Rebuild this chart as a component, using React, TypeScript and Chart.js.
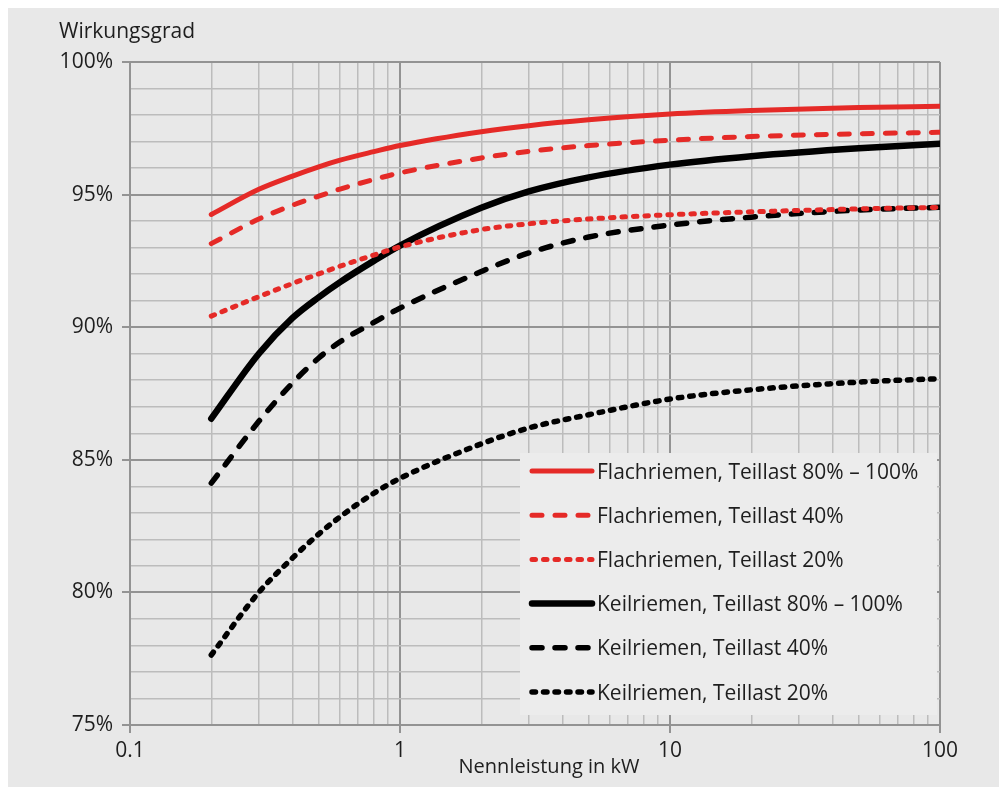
import React, { useEffect, useRef } from 'react';
import { Chart, registerables } from 'chart.js';

Chart.register(...registerables);

// ---- data ----
const POWER_KW = [0.2, 0.3, 0.4, 0.5, 0.6, 0.8, 1, 2, 3, 5, 10, 20, 50, 100];
const FLACH_80_100 = [94.25, 95.2, 95.7, 96.05, 96.3, 96.62, 96.85, 97.37, 97.6, 97.82, 98.04, 98.17, 98.28, 98.33];
const FLACH_40 = [93.15, 94.08, 94.6, 94.94, 95.21, 95.57, 95.82, 96.38, 96.63, 96.85, 97.05, 97.19, 97.29, 97.35];
const FLACH_20 = [90.42, 91.15, 91.65, 92.01, 92.3, 92.72, 93.03, 93.68, 93.9, 94.08, 94.24, 94.35, 94.46, 94.52];
const KEIL_80_100 = [86.55, 89.0, 90.35, 91.13, 91.7, 92.5, 93.08, 94.5, 95.12, 95.65, 96.13, 96.45, 96.75, 96.92];
const KEIL_40 = [84.12, 86.45, 87.9, 88.84, 89.45, 90.18, 90.72, 92.1, 92.8, 93.4, 93.85, 94.15, 94.42, 94.52];
const KEIL_20 = [77.64, 80.0, 81.3, 82.2, 82.85, 83.74, 84.3, 85.6, 86.2, 86.7, 87.29, 87.64, 87.93, 88.06];

const SERIES_LABELS = [
  'Flachriemen, Teillast 80% – 100%',
  'Flachriemen, Teillast 40%',
  'Flachriemen, Teillast 20%',
  'Keilriemen, Teillast 80% – 100%',
  'Keilriemen, Teillast 40%',
  'Keilriemen, Teillast 20%',
];
const X_TICK_LABELS = ['0.1', '1', '10', '100'];
const X_TITLE = 'Nennleistung in kW';
const Y_TITLE = 'Wirkungsgrad';
const Y_MIN = 75;
const Y_MAX = 100;

// ---- styles ----
const W = 992;
const H = 779;
const BG = '#e8e8e8';
const RED = '#e52a27';
const BLACK = '#000000';
const TEXT = '#1e1e1e';
const MAJOR = '#939393';
const MINOR = '#bcbcbc';
const FONT = "'Open Sans', 'Noto Sans', sans-serif";

const DASH = [10, 13];
const DOT = [3.5, 8];

type Style = { color: string; width: number; dash: number[] };
const STYLES: Style[] = [
  { color: RED, width: 5, dash: [] },
  { color: RED, width: 5, dash: DASH },
  { color: RED, width: 5, dash: DOT },
  { color: BLACK, width: 6.5, dash: [] },
  { color: BLACK, width: 5.5, dash: DASH },
  { color: BLACK, width: 5.5, dash: DOT },
];

const SERIES = [FLACH_80_100, FLACH_40, FLACH_20, KEIL_80_100, KEIL_40, KEIL_20];

const isDecade = (v: number) => Math.abs(Math.log10(v) - Math.round(Math.log10(v))) < 1e-6;

const overlayPlugin = {
  id: 'overlay',
  beforeDraw(chart: any) {
    const { ctx } = chart;
    ctx.save();
    ctx.fillStyle = BG;
    ctx.fillRect(0, 0, chart.width, chart.height);
    ctx.restore();
  },
  afterDraw(chart: any) {
    const { ctx, chartArea } = chart;
    ctx.save();
    // y title
    ctx.fillStyle = TEXT;
    ctx.font = `21px ${FONT}`;
    ctx.textAlign = 'left';
    ctx.textBaseline = 'alphabetic';
    ctx.fillText(Y_TITLE, chartArea.left - 71, 30);

    // x title
    ctx.font = `20px ${FONT}`;
    ctx.textAlign = 'center';
    ctx.fillText(X_TITLE, (chartArea.left + chartArea.right) / 2 + 14, chartArea.bottom + 48);

    // legend box
    const bx = chartArea.right - 420;
    const by = chartArea.bottom - 272;
    const bw = 417;
    const bh = 262;
    ctx.fillStyle = '#ececec';
    ctx.fillRect(bx, by, bw, bh);
    ctx.textAlign = 'left';
    chart.data.datasets.forEach((ds: any, i: number) => {
      const cy = by + 18 + i * 44.2;
      ctx.beginPath();
      ctx.strokeStyle = ds.borderColor;
      ctx.lineWidth = ds.borderWidth;
      ctx.lineCap = 'round';
      ctx.setLineDash(ds.borderDash || []);
      ctx.moveTo(bx + 12, cy);
      ctx.lineTo(bx + 72, cy);
      ctx.stroke();
      ctx.setLineDash([]);
      ctx.fillStyle = TEXT;
      ctx.font = `21px ${FONT}`;
      ctx.textBaseline = 'alphabetic';
      ctx.fillText(ds.label, bx + 77, cy + 7.5);
    });
    ctx.restore();
  },
};

export default function App() {
  const ref = useRef<HTMLCanvasElement>(null);

  useEffect(() => {
    if (!ref.current) return;
    const datasets = SERIES.map((vals, i) => ({
      label: SERIES_LABELS[i],
      data: POWER_KW.map((x, j) => ({ x, y: vals[j] })),
      borderColor: STYLES[i].color,
      backgroundColor: STYLES[i].color,
      borderWidth: STYLES[i].width,
      borderDash: STYLES[i].dash,
      borderCapStyle: 'round' as const,
      borderJoinStyle: 'round' as const,
      pointRadius: 0,
      cubicInterpolationMode: 'monotone' as const,
      fill: false,
    }));

    const chart = new Chart(ref.current, {
      type: 'line',
      data: { datasets },
      options: {
        animation: false,
        responsive: false,
        devicePixelRatio: 1,
        layout: { padding: { top: 54, right: 60, bottom: 0, left: 0 } },
        plugins: { legend: { display: false }, tooltip: { enabled: false } },
        scales: {
          x: {
            type: 'logarithmic',
            min: 0.1,
            max: 100,
            afterBuildTicks: (scale: any) => {
              const ticks: any[] = [];
              for (let e = -1; e <= 2; e++) {
                for (let m = 1; m <= 9; m++) {
                  const v = parseFloat((m * Math.pow(10, e)).toPrecision(3));
                  if (v <= 100) ticks.push({ value: v, major: m === 1 });
                }
              }
              scale.ticks = ticks;
            },
            afterFit: (scale: any) => {
              scale.height = H - 717;
            },
            ticks: {
              autoSkip: false,
              maxRotation: 0,
              padding: 5,
              color: TEXT,
              font: { family: FONT, size: 21 },
              callback: (v: any) => {
                const n = Number(v);
                if (!isDecade(n)) return '';
                const idx = Math.round(Math.log10(n)) + 1;
                return X_TICK_LABELS[idx] ?? '';
              },
            },
            grid: {
              color: (c: any) => (isDecade(c.tick.value) ? MAJOR : MINOR),
              lineWidth: (c: any) => (isDecade(c.tick.value) ? 2 : 1.5),
              tickColor: (c: any) => (isDecade(c.tick.value) ? MAJOR : 'rgba(0,0,0,0)'),
              tickLength: 8,
              drawTicks: true,
            },
            border: { display: true, color: MAJOR, width: 2 },
            title: { display: false },
          },
          y: {
            type: 'linear',
            min: Y_MIN,
            max: Y_MAX,
            afterFit: (scale: any) => {
              scale.width = 122;
            },
            ticks: {
              stepSize: 1,
              autoSkip: false,
              padding: 9,
              color: TEXT,
              font: { family: FONT, size: 21 },
              callback: (v: any) => (Number(v) % 5 === 0 ? `${v}%` : ''),
            },
            grid: {
              color: (c: any) => (c.tick.value % 5 === 0 ? MAJOR : MINOR),
              lineWidth: (c: any) => (c.tick.value % 5 === 0 ? 2 : 1.5),
              tickColor: (c: any) => (c.tick.value % 5 === 0 ? MAJOR : 'rgba(0,0,0,0)'),
              tickLength: 8,
            },
            border: { display: true, color: MAJOR, width: 2 },
          },
        },
      },
      plugins: [overlayPlugin],
    });
    return () => chart.destroy();
  }, []);

  return (
    <div style={{ width: W, height: H, background: BG }}>
      <canvas ref={ref} width={W} height={H} style={{ display: 'block', width: W, height: H }} />
    </div>
  );
}
